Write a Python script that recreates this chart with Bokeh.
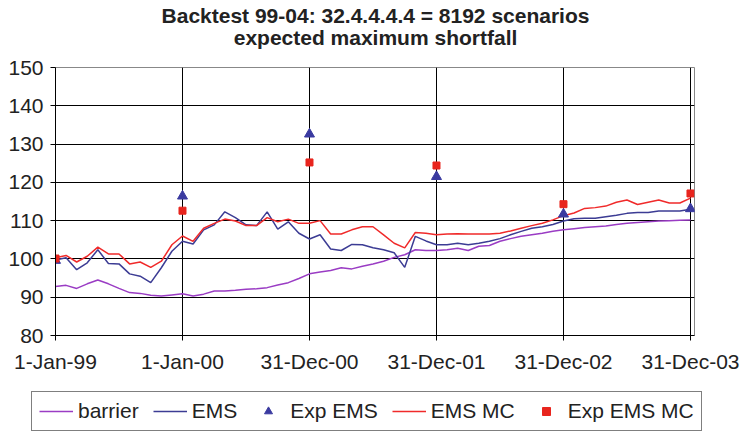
from bokeh.plotting import figure
from bokeh.models import Legend, LegendItem, FixedTicker, Label
from bokeh.embed import file_html
from bokeh.resources import INLINE

# ---- data (monthly, Jan-99 .. Dec-03) ----
month_index = list(range(61))

barrier = [92.8, 93.1, 92.3, 93.5, 94.5, 93.5, 92.3, 91.2, 91.0, 90.5, 90.3, 90.6, 90.9,
           90.3, 90.8, 91.6, 91.6, 91.8, 92.1, 92.2, 92.5, 93.2, 93.8, 94.9, 96.1,
           96.6, 97.0, 97.7, 97.4, 98.1, 98.7, 99.4, 100.4, 101.1, 102.4, 102.2, 102.2,
           102.4, 102.8, 102.2, 103.3, 103.5, 104.6, 105.3, 105.9, 106.3, 106.7, 107.2, 107.6,
           107.9, 108.2, 108.4, 108.6, 109.0, 109.3, 109.5, 109.7, 109.9, 110.0, 110.1, 110.2]

ems = [99.7, 100.3, 97.2, 99.0, 102.4, 98.8, 98.7, 96.1, 95.5, 93.8, 97.7, 102.0, 104.6,
       103.9, 107.6, 108.9, 112.3, 110.8, 108.9, 108.7, 112.3, 107.8, 109.7, 106.7, 105.2,
       106.3, 102.6, 102.2, 103.8, 103.7, 102.9, 102.4, 101.6, 97.8, 105.9, 104.7, 103.7,
       103.7, 104.1, 103.7, 104.1, 104.6, 105.3, 106.3, 107.2, 108.0, 108.4, 109.0, 109.9,
       110.5, 110.6, 110.6, 111.0, 111.4, 111.9, 112.1, 112.1, 112.5, 112.5, 112.5, 113.0]

ems_mc = [100.3, 100.9, 99.2, 100.7, 103.1, 101.3, 101.3, 98.7, 99.2, 97.8, 99.4, 103.7, 106.0,
          104.6, 108.0, 109.3, 110.4, 109.9, 108.7, 108.7, 110.8, 109.7, 110.4, 109.3, 109.3,
          110.0, 106.5, 106.5, 107.6, 108.4, 108.4, 106.3, 104.1, 102.9, 106.9, 106.7, 106.3,
          106.5, 106.6, 106.5, 106.5, 106.5, 106.7, 107.3, 108.0, 108.7, 109.3, 110.2, 111.3,
          112.0, 113.2, 113.4, 113.8, 114.8, 115.4, 114.2, 114.8, 115.4, 114.6, 114.6, 115.9]

exp_months = [0, 12, 24, 36, 48, 60]
exp_ems = [99.6, 116.4, 132.6, 121.5, 111.7, 113.1]
exp_ems_mc = [100.1, 112.6, 125.2, 124.4, 114.3, 117.1]

tick_positions = [0, 12, 24, 36, 48, 60]
tick_labels = ["1-Jan-99", "1-Jan-00", "31-Dec-00", "31-Dec-01", "31-Dec-02", "31-Dec-03"]
y_ticks = [80, 90, 100, 110, 120, 130, 140, 150]

title_line1 = "Backtest 99-04: 32.4.4.4.4 = 8192 scenarios"
title_line2 = "expected maximum shortfall"
legend_labels = ["barrier", "EMS", "Exp EMS", "EMS MC", "Exp EMS MC"]

FONT = "Liberation Sans"
TXT = "#222222"
c_bar = "#9a3cc4"
c_ems = "#3c3c94"
c_mc = "#f02a2a"
c_tri = "#3a3aa0"
c_sq = "#e8251e"

W = 740


def strip(height):
    f = figure(width=W, height=height, output_backend="svg", toolbar_location=None,
               x_range=(-2, -1), y_range=(0, 1), x_axis_location=None, y_axis_location=None,
               min_border=0)
    f.grid.visible = False
    f.outline_line_color = None
    f.background_fill_color = "white"
    f.border_fill_color = "white"
    return f


# ---- title strip (separate root) ----
pt = strip(50)
for txt, ypos in ((title_line1, 35), (title_line2, 13)):
    pt.add_layout(Label(x=375, y=ypos, x_units="screen", y_units="screen", text=txt,
                        text_align="center", text_baseline="middle", text_font=FONT,
                        text_font_size="21px", text_font_style="bold", text_color=TXT))

# ---- main chart ----
p = figure(width=W, height=331, output_backend="svg", toolbar_location=None,
           x_range=(0, 60.38), y_range=(80, 150),
           min_border_left=55, min_border_right=46, min_border_top=17, min_border_bottom=46)

p.background_fill_color = "white"
p.border_fill_color = "white"
p.outline_line_color = "#888888"

p.xaxis.ticker = FixedTicker(ticks=tick_positions)
p.xaxis.major_label_overrides = dict(zip(tick_positions, tick_labels))
p.yaxis.ticker = FixedTicker(ticks=y_ticks)
for ax in (p.xaxis, p.yaxis):
    ax.major_label_text_font = FONT
    ax.major_label_text_font_size = "21px"
    ax.major_label_text_color = TXT
    ax.axis_line_color = "black"
    ax.major_tick_line_color = "black"
    ax.major_tick_in = 0
    ax.major_tick_out = 5
    ax.minor_tick_line_color = None
p.xaxis.major_label_standoff = 9
p.yaxis.major_label_standoff = 7

p.xgrid.ticker = FixedTicker(ticks=tick_positions)
p.ygrid.ticker = FixedTicker(ticks=y_ticks)
p.xgrid.grid_line_color = "black"
p.ygrid.grid_line_color = "black"
p.xgrid.grid_line_width = 1
p.ygrid.grid_line_width = 1

p.line(month_index, barrier, line_color=c_bar, line_width=1.5)
p.line(month_index, ems, line_color=c_ems, line_width=1.5)
p.line(month_index, ems_mc, line_color=c_mc, line_width=1.5)
p.scatter(exp_months, exp_ems, marker="triangle", size=10, fill_color=c_tri, line_color=c_tri)
p.scatter(exp_months, exp_ems_mc, marker="square", size=7, fill_color=c_sq, line_color=c_sq)

# ---- legend strip (separate root); series re-drawn only to feed the legend, kept out of view ----
pl = strip(52)
l_bar = pl.line(month_index, barrier, line_color=c_bar, line_width=1.5)
l_ems = pl.line(month_index, ems, line_color=c_ems, line_width=1.5)
l_exp = pl.scatter(exp_months, exp_ems, marker="triangle", size=8, fill_color=c_tri, line_color=c_tri)
l_mc = pl.line(month_index, ems_mc, line_color=c_mc, line_width=1.5)
l_expmc = pl.scatter(exp_months, exp_ems_mc, marker="square", size=6, fill_color=c_sq, line_color=c_sq)

legend = Legend(items=[
    LegendItem(label=legend_labels[0], renderers=[l_bar]),
    LegendItem(label=legend_labels[1], renderers=[l_ems]),
    LegendItem(label=legend_labels[2], renderers=[l_exp]),
    LegendItem(label=legend_labels[3], renderers=[l_mc]),
    LegendItem(label=legend_labels[4], renderers=[l_expmc]),
], orientation="horizontal", location=(31, 2),
    glyph_width=34, glyph_height=20, label_standoff=5, spacing=14,
    padding=7, margin=0, border_line_color="black", border_line_width=1,
    label_text_font=FONT, label_text_font_size="21px", label_text_color=TXT,
    background_fill_color="white")
pl.add_layout(legend, "center")

open("out.html", "w").write(file_html([pt, p, pl], INLINE))
